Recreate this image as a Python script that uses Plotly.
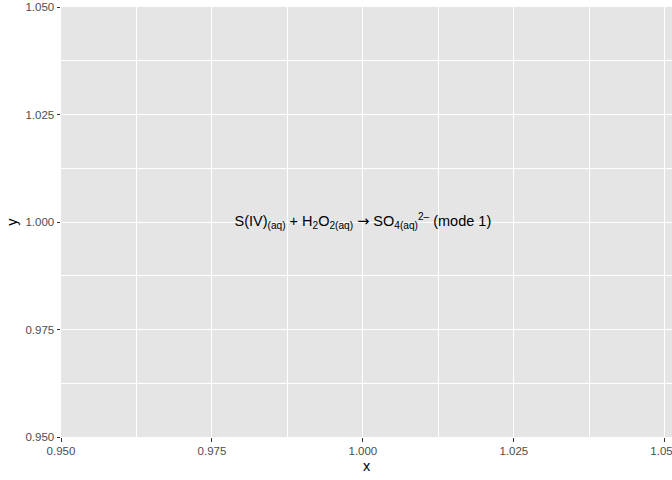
import plotly.graph_objects as go

label_x = [1.0]
label_y = [1.0]
label_text = ["S(IV)<sub>(aq)</sub> + H<sub>2</sub>O<sub>2(aq)</sub> <span style=\"font-family:'DejaVu Sans'\">→</span> SO<sub>4(aq)</sub><sup>2–</sup> (mode 1)"]

x_ticks = [0.95, 0.975, 1.0, 1.025, 1.05]
y_ticks = [0.95, 0.975, 1.0, 1.025, 1.05]
x_ticklabels = ["0.950", "0.975", "1.000", "1.025", "1.050"]
y_ticklabels = ["0.950", "0.975", "1.000", "1.025", "1.050"]

fig = go.Figure()
fig.add_trace(go.Scatter(
    x=label_x, y=label_y, text=label_text, mode="text",
    textposition="middle center",
    textfont=dict(family="Liberation Sans, Arial, sans-serif", size=14.5, color="black"),
    hoverinfo="skip", showlegend=False,
))

axis_common = dict(
    showgrid=True, gridcolor="white", gridwidth=1.1,
    zeroline=False, showline=False, automargin=False,
    ticklabeloverflow="allow",
    ticks="outside", ticklen=3.5, tickwidth=1.1, tickcolor="#333333",
    tickfont=dict(family="Liberation Sans, Arial, sans-serif", size=11.5, color="#4D4D4D"),
    minor=dict(showgrid=True, gridcolor="white", gridwidth=0.5, ticks=""),
    title_font=dict(family="Liberation Sans, Arial, sans-serif", size=14.5, color="black"),
)

fig.update_xaxes(
    range=[0.95, 1.0512], tickvals=x_ticks, ticktext=x_ticklabels,
    minor_dtick=0.0125, minor_tick0=0.9625,
    title_text="x", title_standoff=4, **axis_common,
)
fig.update_yaxes(
    range=[0.95, 1.05], tickvals=y_ticks, ticktext=y_ticklabels,
    minor_dtick=0.0125, minor_tick0=0.9625,
    title_text="y", title_standoff=4, **axis_common,
)

fig.update_layout(
    width=672, height=480,
    margin=dict(l=61, r=0, t=7, b=43),
    plot_bgcolor="#E5E5E5", paper_bgcolor="white",
    showlegend=False,
)

fig.write_html(
    "out.html",
    config={"displayModeBar": False},
    post_script="document.body.style.margin='0';document.body.style.overflow='hidden';",
)
